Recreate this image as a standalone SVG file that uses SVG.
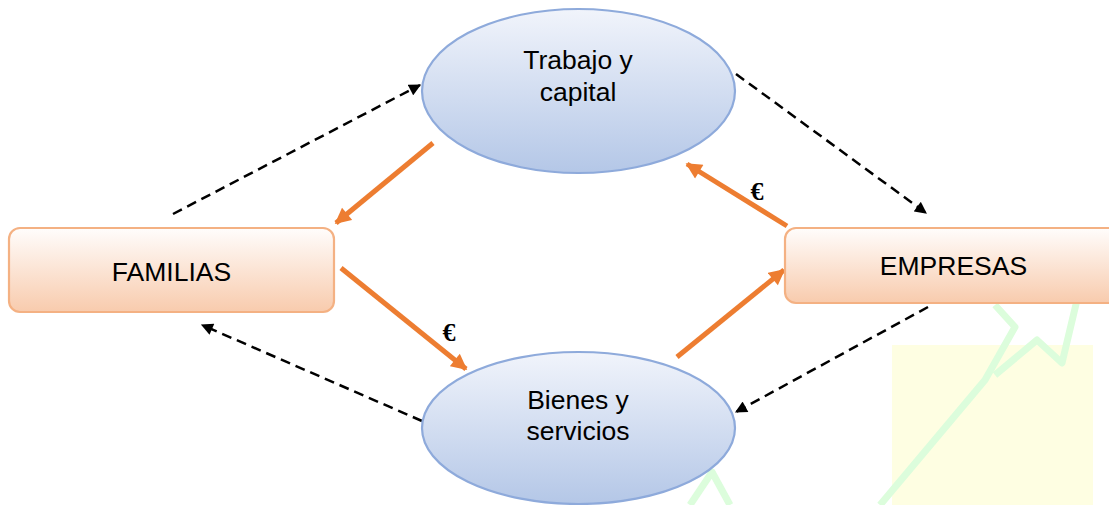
<svg xmlns="http://www.w3.org/2000/svg" width="1109" height="505" viewBox="0 0 1109 505">
  <style>
    .lbl { font-family: "Liberation Sans", Arial, sans-serif; font-size: 26.5px; fill: #000; text-anchor: middle; }
    .eur { font-family: "Liberation Serif", "Times New Roman", serif; font-size: 26px; font-weight: bold; fill: #000; text-anchor: middle; }
    .ell { fill: url(#gBlue); stroke: #8eaadb; stroke-width: 2.2; }
    .box { fill: url(#gPeach); stroke: #f4b183; stroke-width: 2.2; }
    .money { stroke: #ed7d31; stroke-width: 5; fill: none; marker-end: url(#arrO); }
    .flow { stroke: #000; stroke-width: 2.5; stroke-dasharray: 10 6; fill: none; marker-end: url(#arrK); }
    .wm { stroke: #dcfddc; stroke-width: 7; fill: none; stroke-linejoin: round; }
  </style>
  <defs>
    <linearGradient id="gBlue" x1="0" y1="0" x2="0" y2="1">
      <stop offset="0" stop-color="#f1f4fb"/>
      <stop offset="1" stop-color="#b4c7e7"/>
    </linearGradient>
    <linearGradient id="gPeach" x1="0" y1="0" x2="0" y2="1">
      <stop offset="0" stop-color="#fffdfc"/>
      <stop offset="1" stop-color="#f8cbad"/>
    </linearGradient>
    <marker id="arrO" viewBox="0 0 10 10" refX="9" refY="5" markerWidth="17" markerHeight="16" markerUnits="userSpaceOnUse" orient="auto">
      <path d="M0,0 L10,5 L0,10 z" fill="#ed7d31"/>
    </marker>
    <marker id="arrK" viewBox="0 0 10 10" refX="9" refY="5" markerWidth="13" markerHeight="12" markerUnits="userSpaceOnUse" orient="auto">
      <path d="M0,0 L10,5 L0,10 z" fill="#000"/>
    </marker>
  </defs>

  <g id="watermark">
    <rect x="892" y="345" width="201" height="160" fill="#fefee2"/>
    <polyline class="wm" points="880,505 985,380 1015,327 995,305"/>
    <polyline class="wm" points="995,375 1037,340 1062,363 1077,300"/>
    <polyline class="wm" points="690,505 712,472 730,505"/>
  </g>

  <g id="connectors">
    <line class="money" x1="433" y1="143" x2="336" y2="223"/>
    <line class="money" x1="341" y1="268" x2="466" y2="369"/>
    <line class="money" x1="677" y1="357" x2="784" y2="270"/>
    <line class="money" x1="787" y1="226" x2="687" y2="164"/>
    <line class="flow" x1="173" y1="214" x2="420" y2="85"/>
    <line class="flow" x1="736" y1="74" x2="926" y2="213"/>
    <line class="flow" x1="928" y1="307" x2="736" y2="412"/>
    <line class="flow" x1="422" y1="421" x2="202" y2="325"/>
    <text class="eur" x="449" y="341">€</text>
    <text class="eur" x="757" y="200">€</text>
  </g>

  <g id="trabajo">
    <ellipse class="ell" cx="578.5" cy="91" rx="156.5" ry="82"/>
    <text class="lbl" x="578" y="69">Trabajo y</text>
    <text class="lbl" x="578" y="101">capital</text>
  </g>

  <g id="bienes">
    <ellipse class="ell" cx="578.5" cy="428" rx="156.5" ry="76"/>
    <text class="lbl" x="578" y="409">Bienes y</text>
    <text class="lbl" x="578" y="440">servicios</text>
  </g>

  <g id="familias">
    <rect class="box" x="9" y="228" width="325" height="84" rx="11"/>
    <text class="lbl" x="171.5" y="281">FAMILIAS</text>
  </g>

  <g id="empresas">
    <rect class="box" x="785" y="228" width="337" height="75" rx="11"/>
    <text class="lbl" x="953.5" y="275">EMPRESAS</text>
  </g>
</svg>
